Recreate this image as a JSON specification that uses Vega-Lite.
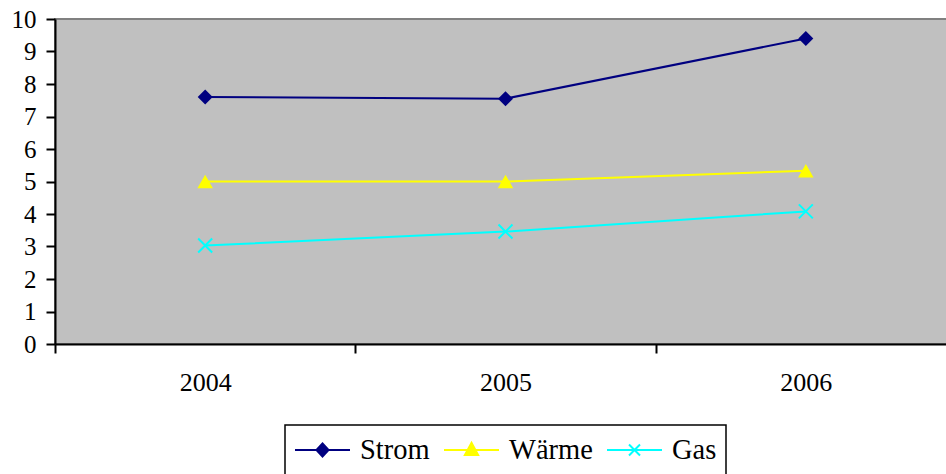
{
  "$schema": "https://vega.github.io/schema/vega-lite/v6.json",
  "autosize": {"type": "none"},
  "width": 901,
  "height": 325,
  "padding": {"left": 55, "top": 19, "right": 0, "bottom": 130},
  "background": "white",
  "config": {
    "font": "Liberation Serif",
    "view": {"fill": "#C0C0C0", "stroke": "#808080", "strokeWidth": 2},
    "legend": {"layout": {"bottom": {"anchor": "middle"}}}
  },
  "data": {
    "values": [
      {"year": "2004", "series": "Strom", "value": 7.6},
      {"year": "2005", "series": "Strom", "value": 7.55},
      {"year": "2006", "series": "Strom", "value": 9.4},
      {"year": "2004", "series": "Wärme", "value": 5.0},
      {"year": "2005", "series": "Wärme", "value": 5.0},
      {"year": "2006", "series": "Wärme", "value": 5.33},
      {"year": "2004", "series": "Gas", "value": 3.03},
      {"year": "2005", "series": "Gas", "value": 3.46},
      {"year": "2006", "series": "Gas", "value": 4.08}
    ]
  },
  "encoding": {
    "x": {
      "field": "year",
      "type": "ordinal",
      "scale": {"type": "band", "paddingInner": 0, "paddingOuter": 0},
      "axis": {
        "title": null,
        "labelAngle": 0,
        "tickBand": "extent",
        "domainColor": "black",
        "domainWidth": 2,
        "tickColor": "black",
        "tickWidth": 2,
        "tickSize": 9,
        "labelFontSize": 26,
        "labelColor": "black",
        "labelPadding": 16
      }
    },
    "y": {
      "field": "value",
      "type": "quantitative",
      "scale": {"domain": [0, 10], "nice": false, "zero": true},
      "axis": {
        "title": null,
        "values": [0, 1, 2, 3, 4, 5, 6, 7, 8, 9, 10],
        "grid": false,
        "domainColor": "black",
        "domainWidth": 2,
        "tickColor": "black",
        "tickWidth": 2,
        "tickSize": 9,
        "labelFontSize": 25,
        "labelColor": "black",
        "labelPadding": 10
      }
    },
    "color": {
      "field": "series",
      "type": "nominal",
      "scale": {"domain": ["Strom", "Wärme", "Gas"], "range": ["#000080", "#FFFF00", "#00FFFF"]},
      "legend": null
    }
  },
  "layer": [
    {
      "mark": {"type": "line", "strokeWidth": 2},
      "encoding": {
        "color": {
          "field": "series",
          "type": "nominal",
          "scale": {"domain": ["Strom", "Wärme", "Gas"], "range": ["#000080", "#FFFF00", "#00FFFF"]},
          "legend": {
            "title": null,
            "orient": "bottom",
            "direction": "horizontal",
            "offset": 30,
            "padding": 9,
            "clipHeight": 32,
            "strokeColor": "black",
            "fillColor": "white",
            "symbolSize": 3025,
            "symbolStrokeWidth": 2,
            "labelFontSize": 28.5,
            "labelColor": "black",
            "labelOffset": 9,
            "columnPadding": 13,
            "encode": {
              "legend": {"update": {"strokeWidth": {"value": 1.5}}},
              "symbols": {
                "update": {
                  "shape": {"signal": "datum.value == 'Strom' ? 'M-1,0H1M0,-0.24L0.22,0L0,0.24L-0.22,0Z' : datum.value == 'Wärme' ? 'M-1,0H1M0,-0.26L0.24,0.18L-0.24,0.18Z' : 'M-1,0H1M-0.2,-0.2L0.2,0.2M-0.2,0.2L0.2,-0.2'"},
                  "fill": {"scale": "color", "field": "value"},
                  "stroke": {"scale": "color", "field": "value"},
                  "strokeWidth": {"value": 2},
                  "opacity": {"value": 1}
                }
              }
            }
          }
        }
      }
    },
    {
      "transform": [{"filter": "datum.series == 'Strom'"}],
      "mark": {"type": "point", "filled": true, "opacity": 1, "size": 225, "shape": "diamond"}
    },
    {
      "transform": [{"filter": "datum.series == 'Wärme'"}],
      "mark": {"type": "point", "filled": true, "opacity": 1, "size": 240, "shape": "triangle-up"}
    },
    {
      "transform": [{"filter": "datum.series == 'Gas'"}],
      "mark": {"type": "point", "filled": false, "opacity": 1, "size": 196, "strokeWidth": 2, "shape": "M-1,-1L1,1M-1,1L1,-1"}
    }
  ]
}
